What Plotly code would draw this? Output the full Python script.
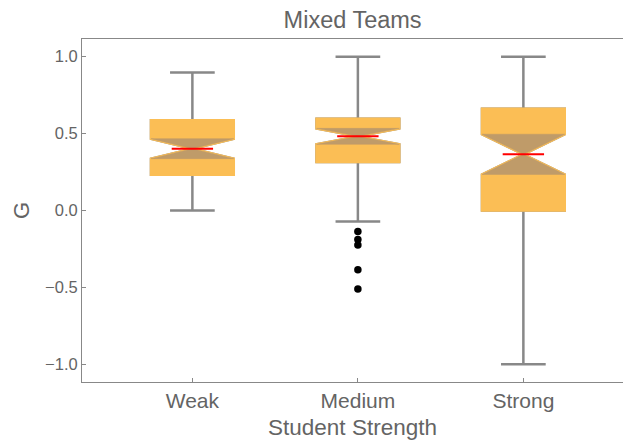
import plotly.graph_objects as go

categories = ["Weak", "Medium", "Strong"]
q1 = [0.233, 0.315, 0.0]
median = [0.402, 0.482, 0.365]
q3 = [0.586, 0.597, 0.662]
lower_whisker = [0.0, -0.072, -1.0]
upper_whisker = [0.897, 1.0, 1.0]
notch_half = [0.065, 0.052, 0.131]
outlier_cat = ["Medium", "Medium", "Medium", "Medium", "Medium"]
outlier_vals = [-0.137, -0.189, -0.224, -0.386, -0.51]

ORANGE = "#FBBE55"
TAN = "#BF9B69"
GRAY = "#888888"
TEXT = "#646464"
FONT = "Liberation Sans, Arial, sans-serif"

notch_lo = [m - n for m, n in zip(median, notch_half)]
notch_hi = [m + n for m, n in zip(median, notch_half)]

common = dict(x=categories, boxpoints=False, showlegend=False, hoverinfo="skip")

fig = go.Figure()
# whiskers (gray) + box
fig.add_trace(go.Box(**common, q1=q1, median=median, q3=q3,
                     lowerfence=lower_whisker, upperfence=upper_whisker,
                     notched=True, notchspan=notch_half, notchwidth=0.5,
                     width=0.5, whiskerwidth=0.54,
                     line=dict(color=GRAY, width=2.5), fillcolor=ORANGE))
# orange box covering gray outline
fig.add_trace(go.Box(**common, q1=q1, median=median, q3=q3,
                     lowerfence=q1, upperfence=q3,
                     notched=True, notchspan=notch_half, notchwidth=0.5,
                     width=0.5, whiskerwidth=0.54,
                     line=dict(color=ORANGE, width=2.5), fillcolor=ORANGE))
# tan hourglass notch region
fig.add_trace(go.Box(**common, q1=notch_lo, median=median, q3=notch_hi,
                     lowerfence=notch_lo, upperfence=notch_hi,
                     notched=True, notchspan=notch_half, notchwidth=0.5,
                     width=0.5, whiskerwidth=0,
                     line=dict(color=TAN, width=0.5), fillcolor=TAN))
# red median line
fig.add_trace(go.Box(**common, q1=median, median=median, q3=median,
                     lowerfence=median, upperfence=median,
                     width=0.25, whiskerwidth=0,
                     line=dict(color="#FF0000", width=2), fillcolor="#FF0000"))
# outliers
fig.add_trace(go.Scatter(x=outlier_cat, y=outlier_vals, mode="markers",
                         marker=dict(color="black", size=7.5),
                         showlegend=False, hoverinfo="skip"))

fig.update_layout(
    width=623, height=440,
    margin=dict(l=82, r=0, t=39, b=58, autoexpand=False),
    paper_bgcolor="white", plot_bgcolor="white",
    boxmode="overlay",
    font=dict(family=FONT, color=TEXT),
    title=dict(text="Mixed Teams", x=0.566, xanchor="center", y=1 - 20 / 440,
               yanchor="middle", yref="container",
               font=dict(size=23.5, color=TEXT, family=FONT)),
    xaxis=dict(type="category", categoryorder="array", categoryarray=categories,
               range=[-0.667, 2.602], showline=True, linecolor=GRAY, linewidth=1,
               mirror=True, ticks="inside", ticklen=4, tickcolor=GRAY,
               showgrid=False, zeroline=False, automargin=False,
               tickfont=dict(size=21, color=TEXT),
               title=dict(text="Student Strength", font=dict(size=22.5, color=TEXT), standoff=10)),
    yaxis=dict(range=[-1.115, 1.115], tickvals=[-1, -0.5, 0, 0.5, 1],
               ticktext=["−1.0", "−0.5", "0.0", "0.5", "1.0"],
               showline=True, linecolor=GRAY, linewidth=1, mirror=False,
               ticks="inside", ticklen=4, tickcolor=GRAY,
               showgrid=False, zeroline=False, automargin=False,
               tickfont=dict(size=16.5, color=TEXT),
               title=dict(text="G", font=dict(size=22, color=TEXT), standoff=9)),
)

fig.write_html("out.html",
               config={"displayModeBar": False, "staticPlot": True},
               post_script="document.body.style.margin='0';"
                           "document.body.style.overflow='hidden';")
